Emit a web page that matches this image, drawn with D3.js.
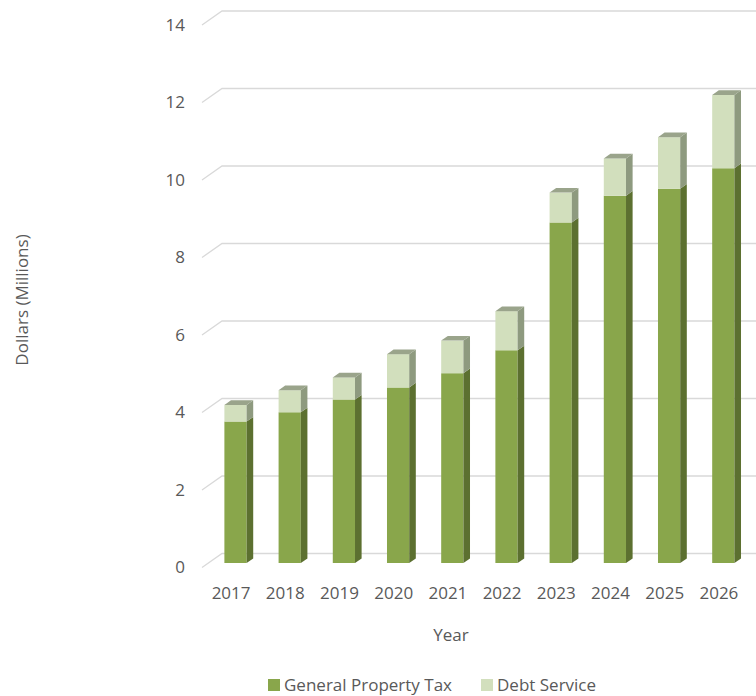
<!DOCTYPE html>
<html>
<head>
<meta charset="utf-8">
<script src="https://cdn.jsdelivr.net/npm/d3@7"></script>
<style>
  html, body { margin: 0; padding: 0; background: #fff; }
  svg { display: block; font-family: "Open Sans", sans-serif; }
</style>
</head>
<body>
<div id="chart"></div>
<script>
const years = ["2017", "2018", "2019", "2020", "2021", "2022", "2023", "2024", "2025", "2026"];
const propertyTax = [3.65, 3.89, 4.22, 4.53, 4.90, 5.49, 8.79, 9.48, 9.66, 10.19];
const debtService = [0.43, 0.57, 0.57, 0.86, 0.84, 1.01, 0.77, 0.96, 1.33, 1.89];
const yTicks = [0, 2, 4, 6, 8, 10, 12, 14];
const seriesNames = ["General Property Tax", "Debt Service"];

const width = 756, height = 696;
const fontSize = 17;

// back wall of the 3d plot
const x = d3.scaleBand()
    .domain(years)
    .range([222, 764])
    .paddingInner(0.59)
    .paddingOuter(0.295);

const y = d3.scaleLinear()
    .domain([0, 14])
    .range([553.5, 11]);

// depth: z=0 front plane, z=1 back wall
const depthX = 20, depthY = 14;
const barFront = 0.32, barBack = 0.65;

function proj(px, v, z) {
    return [px - depthX * (1 - z), y(v) + depthY * (1 - z)];
}

const colors = {
    "General Property Tax": {front: "#89a64b", side: "#5c7030", top: "#7d9644"},
    "Debt Service": {front: "#d2dfbd", side: "#8e9a7f", top: "#9aa48b"}
};

const rows = years.map((yr, i) => ({year: yr, "General Property Tax": propertyTax[i], "Debt Service": debtService[i]}));
const stacked = d3.stack().keys(seriesNames)(rows);

const svg = d3.select("#chart").append("svg")
    .attr("width", width)
    .attr("height", height);

// gridlines
const grid = svg.append("g");
yTicks.forEach(t => {
    const a = proj(x.range()[0], t, 0), b = proj(x.range()[0], t, 1), c = proj(x.range()[1], t, 1);
    grid.append("polyline")
        .attr("points", [a, b, c].map(p => p.join(",")).join(" "))
        .attr("fill", "none")
        .attr("stroke", "#d9d9d9")
        .attr("stroke-width", 1.3);
});

// y tick labels
svg.append("g").selectAll("text")
    .data(yTicks)
    .join("text")
    .attr("x", 185)
    .attr("y", d => proj(0, d, 0)[1])
    .attr("dy", "0.35em")
    .attr("text-anchor", "end")
    .attr("font-size", fontSize)
    .attr("fill", "#595959")
    .text(d => d);

// bars
const pts = arr => arr.map(p => p.join(",")).join(" ");
const bars = svg.append("g");
years.forEach((yr, i) => {
    const x0 = x(yr), x1 = x(yr) + x.bandwidth();
    stacked.forEach((s, si) => {
        const lo = s[i][0], hi = s[i][1];
        const col = colors[s.key];
        const g = bars.append("g");
        // front face
        g.append("polygon")
            .attr("points", pts([proj(x0, lo, barFront), proj(x1, lo, barFront), proj(x1, hi, barFront), proj(x0, hi, barFront)]))
            .attr("fill", col.front);
        // right side
        g.append("polygon")
            .attr("points", pts([proj(x1, lo, barFront), proj(x1, lo, barBack), proj(x1, hi, barBack), proj(x1, hi, barFront)]))
            .attr("fill", col.side);
        if (si === stacked.length - 1) {
            g.append("polygon")
                .attr("points", pts([proj(x0, hi, barFront), proj(x1, hi, barFront), proj(x1, hi, barBack), proj(x0, hi, barBack)]))
                .attr("fill", col.top);
        }
    });
});

// x labels
svg.append("g").selectAll("text")
    .data(years)
    .join("text")
    .attr("x", d => proj(x(d) + x.bandwidth() / 2, 0, 0)[0] + 2)
    .attr("y", 593)
    .attr("dy", "0.35em")
    .attr("text-anchor", "middle")
    .attr("font-size", fontSize)
    .attr("fill", "#595959")
    .text(d => d);

// axis titles
svg.append("text")
    .attr("x", 451)
    .attr("y", 635)
    .attr("dy", "0.35em")
    .attr("text-anchor", "middle")
    .attr("font-size", fontSize)
    .attr("fill", "#595959")
    .text("Year");

svg.append("text")
    .attr("transform", "translate(22,300) rotate(-90)")
    .attr("dy", "0.35em")
    .attr("text-anchor", "middle")
    .attr("font-size", fontSize)
    .attr("fill", "#595959")
    .text("Dollars (Millions)");

// legend
const legendX = [268, 481];
const legend = svg.append("g").selectAll("g")
    .data(seriesNames)
    .join("g")
    .attr("transform", (d, i) => `translate(${legendX[i]},679)`);
legend.append("rect")
    .attr("width", 12)
    .attr("height", 12)
    .attr("fill", d => colors[d].front);
legend.append("text")
    .attr("x", 16)
    .attr("y", 6)
    .attr("dy", "0.35em")
    .attr("font-size", fontSize)
    .attr("fill", "#595959")
    .text(d => d);
</script>
</body>
</html>
